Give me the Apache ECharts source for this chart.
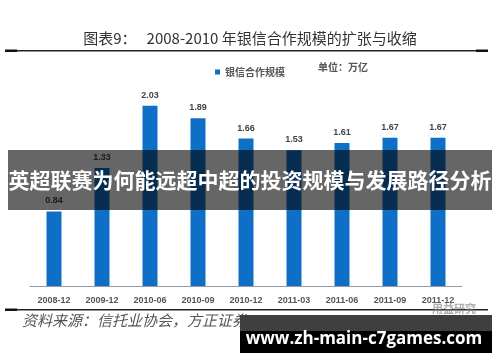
<!DOCTYPE html>
<html>
<head>
<meta charset="utf-8">
<script src="https://cdn.jsdelivr.net/npm/echarts@6/dist/echarts.min.js"></script>
<style>
html,body{margin:0;padding:0;background:#fff;}
#chart{width:500px;height:362px;}
</style>
</head>
<body>
<div id="chart"></div>
<script>
const categories = ['2008-12','2009-12','2010-06','2010-09','2010-12','2011-03','2011-06','2011-09','2011-12'];
const scaleValues = [0.84, 1.33, 2.03, 1.89, 1.66, 1.53, 1.61, 1.67, 1.67];
const seriesName = '银信合作规模';
const titleText = '图表9：   2008-2010 年银信合作规模的扩张与收缩';
const unitText = '单位：万亿';
const sourceText = '资料来源：信托业协会，方正证券';
const bannerText = '英超联赛为何能远超中超的投资规模与发展路径分析';
const siteText = 'www.zh-main-c7games.com';
const markText = '用益研究';

const chart = echarts.init(document.getElementById('chart'), null, {renderer:'canvas'});
const Z = 100;
chart.setOption({
  animation: false,
  backgroundColor: '#fff',
  grid: {left: 30, right: 38, top: 64, bottom: 76},
  legend: {
    data: [seriesName],
    left: 210, top: 62,
    icon: 'rect', itemWidth: 5, itemHeight: 5, itemGap: 4,
    textStyle: {fontSize: 10, color: '#555', fontWeight: 'bold', fontFamily: 'Noto Sans CJK SC'}
  },
  xAxis: {
    type: 'category',
    data: categories,
    axisLine: {lineStyle: {color: '#999', width: 1}},
    axisTick: {show: false},
    axisLabel: {fontSize: 9, color: '#555', fontWeight: 'bold', margin: 10, fontFamily: 'Liberation Sans'}
  },
  yAxis: {
    type: 'value', min: 0, max: 2.5,
    show: false, splitLine: {show: false}
  },
  series: [{
    name: seriesName,
    type: 'bar',
    data: scaleValues,
    barWidth: 15,
    itemStyle: {color: '#0f6fc6'},
    label: {
      show: true, position: 'top', distance: 6,
      fontSize: 9, color: '#444', fontWeight: 'bold', fontFamily: 'Liberation Sans',
      formatter: p => p.value.toFixed(2)
    }
  }],
  graphic: [
    {type: 'text', z: Z, left: 'center', top: 31, style: {text: titleText, fontSize: 15, fill: '#333', fontFamily: 'Noto Sans CJK SC'}},
    {type: 'rect', z: Z, shape: {x: 5, y: 50, width: 483, height: 1.5}, style: {fill: '#222'}},
    {type: 'rect', z: Z, shape: {x: 5, y: 49.5, width: 12, height: 2.5}, style: {fill: '#111'}},
    {type: 'rect', z: Z, shape: {x: 476, y: 49.5, width: 12, height: 2.5}, style: {fill: '#111'}},
    {type: 'text', z: Z, left: 318, top: 62, style: {text: unitText, fontSize: 10, fill: '#555', fontWeight: 'bold', fontFamily: 'Noto Sans CJK SC'}},
    {type: 'rect', z: Z, shape: {x: 5, y: 309, width: 483, height: 1.5}, style: {fill: '#222'}},
    {type: 'rect', z: Z, shape: {x: 5, y: 308.5, width: 12, height: 2.5}, style: {fill: '#111'}},
    {type: 'text', z: Z, left: 22, top: 313, style: {text: sourceText, fontSize: 15, fill: '#555', fontStyle: 'italic', fontFamily: 'Noto Sans CJK SC'}},
    {type: 'text', z: Z, left: 432, top: 303, style: {text: markText, fontSize: 11, fill: 'rgba(120,120,120,0.6)', fontWeight: 'bold', fontFamily: 'Noto Sans CJK SC'}},
    {type: 'rect', z: Z, shape: {x: 8, y: 150, width: 484, height: 60}, style: {fill: 'rgba(0,0,0,0.6)'}},
    {type: 'text', z: Z + 1, left: 'center', top: 170, style: {text: bannerText, fontSize: 21, fill: '#fff', fontWeight: 'bold', fontFamily: 'Noto Sans CJK SC'}},
    {type: 'rect', z: Z + 1, shape: {x: 240, y: 315, width: 252, height: 38}, style: {fill: '#000'}},
    {type: 'rect', z: Z + 2, shape: {x: 240, y: 315, width: 252, height: 16}, style: {fill: 'rgba(70,70,70,0.9)'}},
    {type: 'text', z: Z + 3, x: 364, y: 339, style: {text: siteText, fontSize: 17, fill: '#fff', fontWeight: 'bold', fontFamily: 'Open Sans', align: 'center', verticalAlign: 'middle'}}
  ]
});
</script>
</body>
</html>
